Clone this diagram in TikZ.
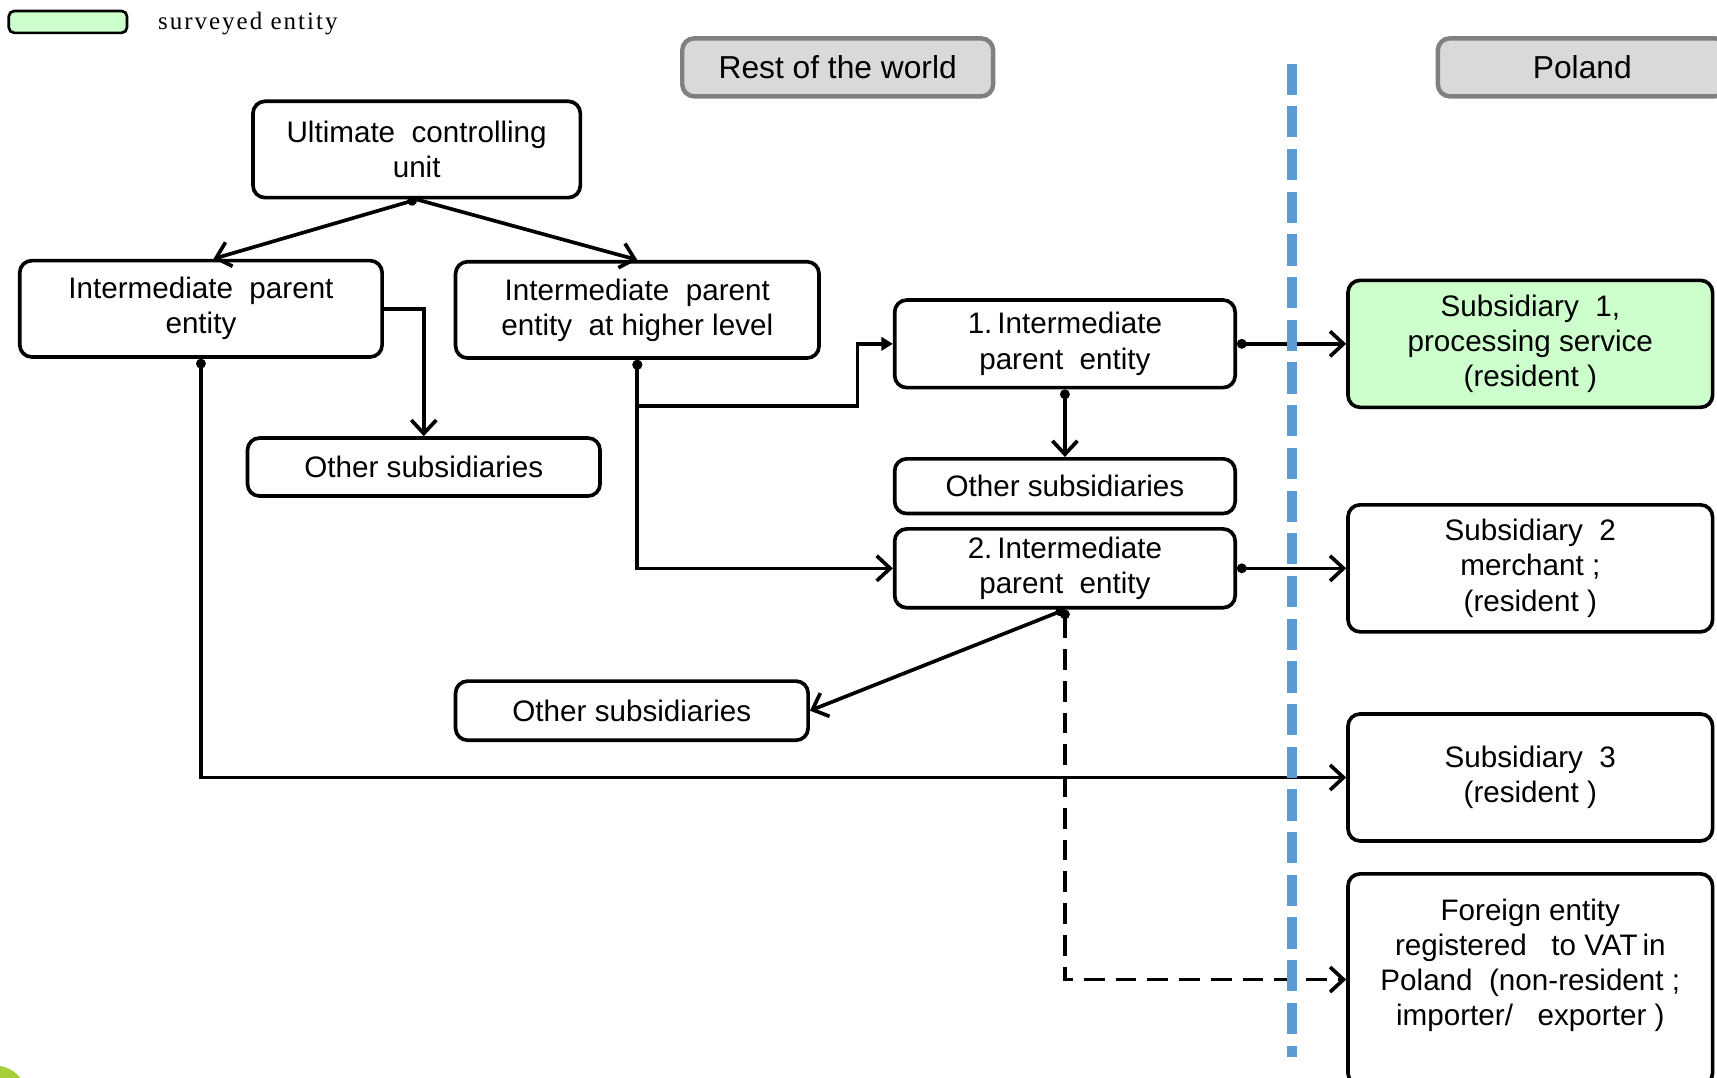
\documentclass[tikz,border=0pt]{standalone}
\usepackage{fontspec}
\setmainfont{Liberation Sans}
\newfontfamily\legendfont[LetterSpace=8]{Liberation Serif}
\usepackage{tikz}
\usetikzlibrary{arrows.meta}
\definecolor{surveyed}{HTML}{CCFFCC}
\definecolor{header}{HTML}{D9D9D9}
\definecolor{headerline}{HTML}{808080}
\definecolor{divider}{HTML}{5B9BD5}
\definecolor{blob}{HTML}{A6CE39}
\tikzstyle{entity}=[draw, rounded corners=0.22cm, line width=1.9pt, align=center, inner sep=0pt, font=\fontsize{15.4}{18.2}\selectfont]
\tikzstyle{region}=[entity, draw=headerline, fill=header, line width=2.3pt, font=\fontsize{16.5}{19}\selectfont]
\tikzstyle{link}=[line width=1.9pt, {Circle[length=5pt]}->]

\begin{document}
\begin{tikzpicture}[x=0.02cm, y=-0.02cm, >={Straight Barb[length=7pt,width=13pt]}]
  \useasboundingbox (0,0) rectangle (1568,984);
  \fill[blob] (-5,1003) circle (0.6cm);
  % legend
  \node[draw, fill=surveyed, rounded corners=0.1cm, line width=1.4pt, minimum width=2.16cm, minimum height=0.4cm] (legendbox) at (62,20) {};
  \node[anchor=west, inner sep=0pt, font={\legendfont\fontsize{13}{15}\selectfont}] (legendtext) at (144,21.5) {surveyed entity};
  % regions
  \node[region, minimum width=5.68cm, minimum height=1.06cm] (rest) at (765,61.5) {Rest of the world};
  \node[region, minimum width=5.28cm, minimum height=1.06cm] (poland) at (1445,61.5) {Poland};
  % rest of the world
  \node[entity, minimum width=5.98cm, minimum height=1.76cm] (ucu) at (380.5,136.5) {Ultimate~ controlling\\unit};
  \node[entity, minimum width=6.62cm, minimum height=1.76cm] (ipe) at (183.5,282) {Intermediate~ parent\\entity};
  \node[entity, minimum width=6.64cm, minimum height=1.76cm] (ipeh) at (582,283) {Intermediate~ parent\\entity~ at higher level};
  \node[entity, minimum width=6.44cm, minimum height=1.06cm] (os1) at (387,426.5) {Other subsidiaries};
  \node[entity, minimum width=6.22cm, minimum height=1.6cm] (ipe1) at (972.5,314) {1.\,Intermediate\\parent~ entity};
  \node[entity, minimum width=6.22cm, minimum height=1cm] (os2) at (972.5,444) {Other subsidiaries};
  \node[entity, minimum width=6.22cm, minimum height=1.44cm] (ipe2) at (972.5,519) {2.\,Intermediate\\parent~ entity};
  \node[entity, minimum width=6.44cm, minimum height=1.08cm] (os3) at (577,649) {Other subsidiaries};
  % poland
  \node[entity, fill=surveyed, minimum width=6.66cm, minimum height=2.32cm] (sub1) at (1397.5,314) {Subsidiary~ 1,\\processing service\\(resident )};
  \node[entity, minimum width=6.66cm, minimum height=2.32cm] (sub2) at (1397.5,519) {Subsidiary~ 2\\merchant ;\\(resident )};
  \node[entity, minimum width=6.66cm, minimum height=2.32cm] (sub3) at (1397.5,710) {Subsidiary~ 3\\(resident )};
  \node[entity, minimum width=6.66cm, minimum height=3.86cm] (foreign) at (1397.5,894.5) {Foreign entity\\registered~~ to VAT\,in\\Poland~ (non-resident ;\\importer/~~ exporter )\\\mbox{}};
  % connectors
  \coordinate (bend) at (783,371);
  \draw[link] (ucu.south) -- ([xshift=0.23cm]ipe.north);
  \draw[link, ->] (ucu.south) -- (ipeh.north);
  \draw[link, ->] (ipe.east) -| (os1.north);
  \draw[link] (ipe.south) |- (sub3.west);
  \draw[link, {Circle[length=5pt]}-{Triangle[length=6pt,width=7pt]}] (ipeh.south) |- (bend) |- (ipe1.west);
  \draw[link] (ipeh.south) |- (ipe2.west);
  \draw[link] (ipe1.east) -- (sub1.west);
  \draw[link] (ipe1.south) -- (os2.north);
  \draw[link] (ipe2.east) -- (sub2.west);
  \draw[link] (ipe2.south) -- (os3.east);
  \draw[link, dash pattern=on 0.38cm off 0.2cm] (ipe2.south) |- (foreign.west);
  % border between the regions
  \draw[divider, line width=0.19cm, dash pattern=on 0.57cm off 0.21cm] (1180,58) -- (1180,965);
\end{tikzpicture}
\end{document}
